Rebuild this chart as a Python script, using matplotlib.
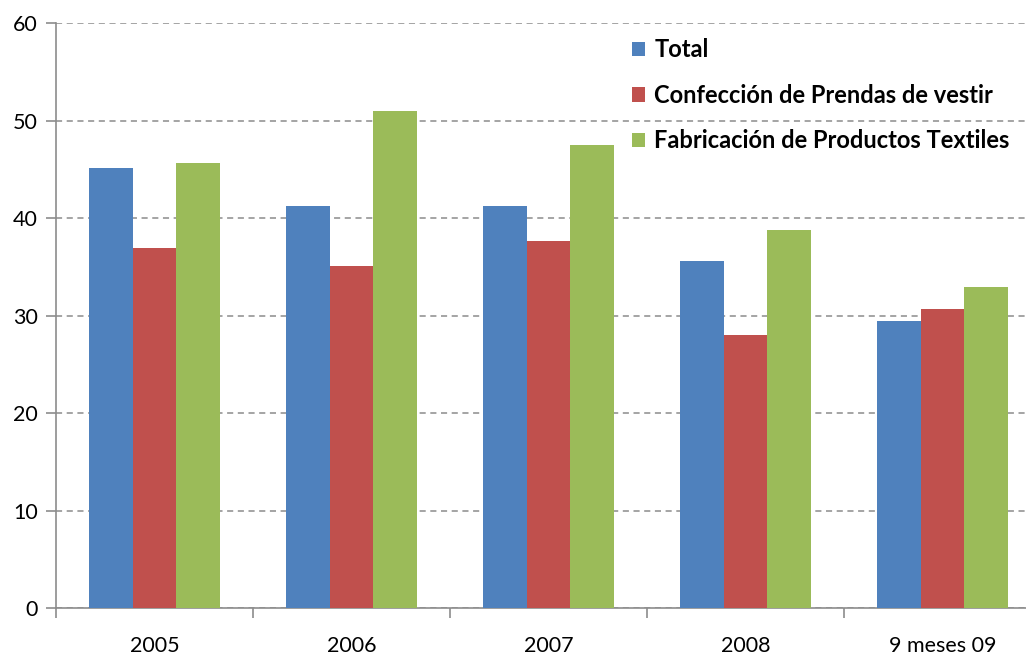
import matplotlib
matplotlib.use('Agg')
import matplotlib.pyplot as plt
import numpy as np

categorias = ['2005', '2006', '2007', '2008', '9 meses 09']
series = ['Total', 'Confección de Prendas de vestir', 'Fabricación de Productos Textiles']
total = [45.1, 41.2, 41.2, 35.6, 29.4]
confeccion = [36.9, 35.1, 37.6, 28.0, 30.7]
fabricacion = [45.6, 51.0, 47.5, 38.8, 32.9]
colores = ['#4F81BD', '#C0504D', '#9BBB59']

plt.rcParams['font.family'] = ['Lato', 'DejaVu Sans']

fig = plt.figure(figsize=(10.26, 6.54), dpi=100)
ax = fig.add_axes((0.0546, 0.0703, 0.960, 0.8945))

x = np.arange(len(categorias))
ancho = 0.223
for i, (datos, nombre) in enumerate(zip([total, confeccion, fabricacion], series)):
    ax.bar(x + (i - 1) * ancho, datos, ancho, color=colores[i], label=nombre, zorder=3)

ax.set_xlim(-0.5, len(categorias) - 0.5)
ax.set_ylim(0, 60)
ax.set_yticks(range(0, 61, 10))
ax.yaxis.grid(True, linestyle=(0, (4, 3)), color='#8c8c8c', linewidth=1.1, zorder=0)

ax.set_xticks(np.arange(-0.5, len(categorias), 1.0))
ax.set_xticklabels([])
ax.set_xticks(x, minor=True)
ax.set_xticklabels(categorias, minor=True)
ax.tick_params(axis='x', which='minor', length=0, pad=20, labelsize=15.5)
ax.tick_params(axis='x', which='major', length=7, color='#8c8c8c', width=1.2)
ax.tick_params(axis='y', length=7, color='#8c8c8c', width=1.2, labelsize=15.5, pad=6)

for lado in ['top', 'right']:
    ax.spines[lado].set_visible(False)
for lado in ['left', 'bottom']:
    ax.spines[lado].set_color('#8c8c8c')
    ax.spines[lado].set_linewidth(1.2)

leg = ax.legend(loc='upper left', bbox_to_anchor=(0.563, 1.01), frameon=False,
                prop={'weight': 'bold', 'size': 17}, handlelength=0.55, handleheight=0.55,
                handletextpad=0.4, labelspacing=0.95)

fig.savefig('out.png', dpi=100)
